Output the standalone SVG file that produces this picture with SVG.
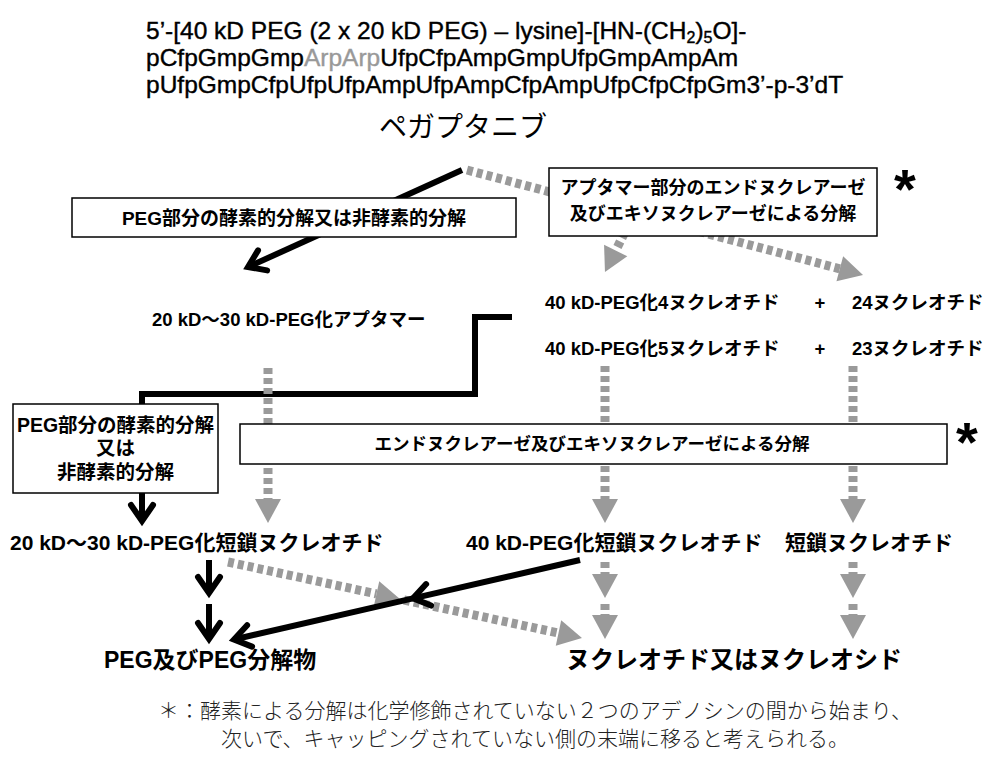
<svg xmlns="http://www.w3.org/2000/svg" width="986" height="762" viewBox="0 0 986 762">
<style>
.hdr{font-family:"Liberation Sans",Arial,sans-serif;font-size:24.5px;fill:#000;stroke:#000;stroke-width:0.4}
.lbl{font-family:"Liberation Sans","Noto Sans CJK JP",sans-serif;font-weight:bold;fill:#000}
.title{font-family:"Noto Sans CJK JP",sans-serif;font-size:28px;font-weight:normal;fill:#000}
.note{font-family:"Liberation Serif","Noto Sans CJK JP",serif;font-size:21px;font-weight:300;fill:#222}
.box{fill:#fff;stroke:#000;stroke-width:1.5}
.gd{fill:none;stroke:#9a9a9a;stroke-width:9;stroke-dasharray:6 4}
.bk{fill:none;stroke:#000;stroke-width:6}
.ast{font-family:"Liberation Sans",Arial,sans-serif;font-weight:bold;font-size:56px;fill:#000}
</style>
<defs>
<marker id="gtri" markerUnits="userSpaceOnUse" markerWidth="30" markerHeight="30" viewBox="0 -15 30 30" refX="0" refY="0" orient="auto" overflow="visible">
<path d="M0,-13 L24,0 L0,13 Z" fill="#9a9a9a"/>
</marker>
<marker id="bchev" markerUnits="userSpaceOnUse" markerWidth="30" markerHeight="30" viewBox="-20 -15 30 30" refX="0" refY="0" orient="auto" overflow="visible">
<path d="M-16,-11 L0,0 L-16,11" fill="none" stroke="#000" stroke-width="6" stroke-linecap="round"/>
</marker>
</defs>

<g id="header">
<text class="hdr" x="146" y="39">5’-[40 kD PEG (2 x 20 kD PEG) – lysine]-[HN-(CH<tspan font-size="16" dy="4">2</tspan><tspan dy="-4">)</tspan><tspan font-size="16" dy="4">5</tspan><tspan dy="-4">O]-</tspan></text>
<text class="hdr" x="146" y="66">pCfpGmpGmp<tspan fill="#999" stroke="#999">ArpArp</tspan>UfpCfpAmpGmpUfpGmpAmpAm</text>
<text class="hdr" x="146" y="93">pUfpGmpCfpUfpUfpAmpUfpAmpCfpAmpUfpCfpCfpGm3’-p-3’dT</text>
</g>

<g id="connectors">
<line class="bk" x1="462" y1="170" x2="248" y2="267" marker-end="url(#bchev)"/>
<line class="gd" x1="467" y1="170" x2="839.8" y2="268.8" marker-end="url(#gtri)"/>
<line class="gd" x1="633.6" y1="214.7" x2="615.7" y2="250.5" marker-end="url(#gtri)"/>
<path class="bk" d="M512,317 H475 V394 H142 V404"/>
<line class="bk" x1="142" y1="493" x2="142" y2="521" marker-end="url(#bchev)"/>
<line class="gd" x1="268" y1="368" x2="268" y2="499" marker-end="url(#gtri)"/>
<line class="gd" x1="605" y1="366" x2="605" y2="499" marker-end="url(#gtri)"/>
<line class="gd" x1="853" y1="366" x2="853" y2="499" marker-end="url(#gtri)"/>
<line class="bk" x1="209" y1="560" x2="209" y2="593" marker-end="url(#bchev)"/>
<line class="bk" x1="209" y1="604" x2="209" y2="639" marker-end="url(#bchev)"/>
<line class="gd" x1="605" y1="562" x2="605" y2="574" marker-end="url(#gtri)"/>
<line class="gd" x1="605" y1="604" x2="605" y2="615" marker-end="url(#gtri)"/>
<line class="gd" x1="853" y1="562" x2="853" y2="574" marker-end="url(#gtri)"/>
<line class="gd" x1="853" y1="604" x2="853" y2="615" marker-end="url(#gtri)"/>
<line class="gd" x1="228" y1="562" x2="376.5" y2="593.9" marker-end="url(#gtri)"/>
<line class="gd" x1="404" y1="600" x2="558.5" y2="633" marker-end="url(#gtri)"/>
<line class="bk" x1="580" y1="560" x2="413" y2="598.4" marker-end="url(#bchev)"/>
<line class="bk" x1="413" y1="598.4" x2="234" y2="639.5" marker-end="url(#bchev)"/>
</g>

<g id="pegaptanib">
<text class="title" x="463" y="137" text-anchor="middle">ペガプタニブ</text>
</g>

<g id="box-peg1">
<rect class="box" x="72" y="198" width="444" height="39"/>
<text class="lbl" x="294" y="224.5" font-size="19" text-anchor="middle">PEG部分の酵素的分解又は非酵素的分解</text>
</g>

<g id="box-apt">
<rect class="box" x="549" y="168" width="328" height="68"/>
<text class="lbl" x="713" y="194" font-size="18" text-anchor="middle">アプタマー部分のエンドヌクレアーゼ</text>
<text class="lbl" x="713" y="220" font-size="18" text-anchor="middle">及びエキソヌクレアーゼによる分解</text>
<text class="ast" x="894" y="208">*</text>
</g>

<g id="peg-aptamer">
<text class="lbl" x="152" y="326" font-size="18.5">20 kD〜30 kD-PEG化アプタマー</text>
</g>

<g id="row4">
<text class="lbl" x="545" y="309" font-size="18.5">40 kD-PEG化4ヌクレオチド</text>
<text class="lbl" x="820" y="309" font-size="18.5" text-anchor="middle">+</text>
<text class="lbl" x="852" y="309" font-size="18.5">24ヌクレオチド</text>
</g>
<g id="row5">
<text class="lbl" x="545" y="355" font-size="18.5">40 kD-PEG化5ヌクレオチド</text>
<text class="lbl" x="820" y="355" font-size="18.5" text-anchor="middle">+</text>
<text class="lbl" x="852" y="355" font-size="18.5">23ヌクレオチド</text>
</g>

<g id="box-peg2">
<rect class="box" x="13" y="404" width="205" height="89"/>
<text class="lbl" x="115.5" y="432" font-size="19.5" text-anchor="middle">PEG部分の酵素的分解</text>
<text class="lbl" x="115.5" y="455" font-size="19.5" text-anchor="middle">又は</text>
<text class="lbl" x="115.5" y="479" font-size="19.5" text-anchor="middle">非酵素的分解</text>
</g>

<g id="box-nuclease">
<rect class="box" x="240" y="424" width="707" height="40"/>
<text class="lbl" x="592" y="450" font-size="17.5" text-anchor="middle">エンドヌクレアーゼ及びエキソヌクレアーゼによる分解</text>
<text class="ast" x="956" y="461">*</text>
</g>

<g id="short-peg2030">
<text class="lbl" x="10" y="550" font-size="21">20 kD〜30 kD-PEG化短鎖ヌクレオチド</text>
</g>
<g id="short-peg40">
<text class="lbl" x="466" y="550" font-size="21">40 kD-PEG化短鎖ヌクレオチド</text>
</g>
<g id="short">
<text class="lbl" x="785" y="550" font-size="21">短鎖ヌクレオチド</text>
</g>

<g id="peg-products">
<text class="lbl" x="104" y="668" font-size="23">PEG及びPEG分解物</text>
</g>
<g id="nucleotides">
<text class="lbl" x="566" y="668" font-size="24">ヌクレオチド又はヌクレオシド</text>
</g>

<g id="footnote">
<text class="note" x="535" y="718" text-anchor="middle">＊：酵素による分解は化学修飾されていない２つのアデノシンの間から始まり、</text>
<text class="note" x="535" y="746" text-anchor="middle">次いで、キャッピングされていない側の末端に移ると考えられる。</text>
</g>
</svg>
